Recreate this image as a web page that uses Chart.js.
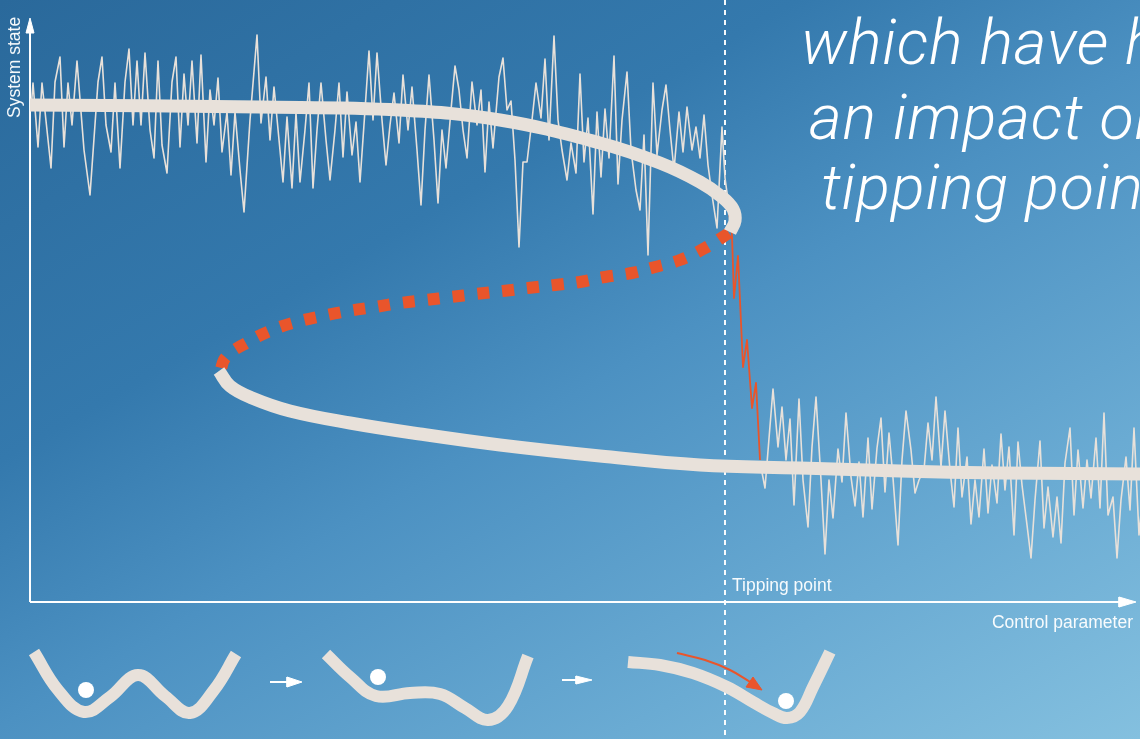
<!DOCTYPE html>
<html>
<head>
<meta charset="utf-8">
<script src="https://cdn.jsdelivr.net/npm/chart.js@4.4.1/dist/chart.umd.min.js"></script>
<style>
  html, body { margin: 0; padding: 0; overflow: hidden; }
  body { width: 1140px; height: 739px; position: relative;
    background: linear-gradient(150deg, #2a699b 0%, #3479ad 33%, #4c91c2 52%, #6aabd3 78%, #84c0df 100%); }
  #c { position: absolute; left: 0; top: 0; }
  .lbl { position: absolute; color: rgba(255,255,255,0.95); font-family: "Liberation Sans", Arial, sans-serif;
    font-size: 17.5px; line-height: 1; white-space: nowrap; }
  .big { position: absolute; color: #fff; font-family: "Roboto", "Lato", sans-serif; font-weight: 300;
    font-style: italic; font-size: 63px; letter-spacing: 0.8px; line-height: 1; white-space: nowrap; }
</style>
</head>
<body>
<canvas id="c" width="1140" height="739"></canvas>
<div class="lbl" style="left:6px; top:118px; transform: rotate(-90deg); transform-origin: left top;">System state</div>
<div class="lbl" style="left:732px; top:577px;">Tipping point</div>
<div class="lbl" style="right:7px; top:614px;">Control parameter</div>
<div class="big" style="left:801px; top:11px;">which have had</div>
<div class="big" style="left:809px; top:86px;">an impact on</div>
<div class="big" style="left:821px; top:156px;">tipping points</div>
<script>
// Units: x = control parameter (0 at axis origin), y = system state (0 at x axis)
const upperNoise = [
[1,492],[3,519],[8,455],[12,519],[21,434],[25,520],[30,545],[34,455],[38,519],[42,477],[47,541],[54,452],[60,407],[68,520],[72,545],[76,477],[81,450],[85,519],[90,434],[95,520],[99,553],[103,477],[107,541],[111,477],[115,549],[120,472],[124,444],[128,541],[132,457],[137,429],[142,520],[146,545],[150,455],[154,528],[158,477],[162,541],[167,459],[171,547],[176,440],[180,512],[184,477],[188,524],[192,450],[197,490],[201,427],[205,490],[210,432],[214,390],[220,482],[227,567],[231,479],[236,525],[240,462],[244,515],[253,420],[257,485],[262,414],[266,489],[270,420],[275,472],[279,519],[283,414],[287,472],[291,519],[296,462],[300,422],[305,472],[309,519],[313,445],[317,510],[322,447],[326,480],[330,420],[335,492],[339,551],[343,482],[347,549],[352,482],[356,437],[360,477],[364,509],[369,459],[373,527],[378,472],[382,515],[387,452],[391,397],[395,472],[399,527],[404,462],[408,399],[412,472],[416,434],[421,492],[425,536],[429,512],[433,472],[437,444],[442,520],[447,477],[451,512],[455,430],[459,500],[463,454],[469,525],[473,544],[477,492],[481,501],[485,442],[489,355],[493,440],[497,440],[502,482],[506,519],[511,484],[515,543],[519,462],[524,566],[528,482],[532,452],[537,422],[541,459],[546,429],[550,528],[554,440],[558,484],[563,388],[567,490],[571,425],[575,493],[579,444],[584,546],[588,418],[592,482],[597,530],[601,452],[606,412],[610,392],[614,467],[618,347],[623,519],[627,447],[632,492],[636,517],[640,472],[644,432],[649,490],[653,450],[657,495],[662,452],[666,475],[670,444],[674,487],[678,437],[682,407],[687,374],[692,475],[695,424],[698,402]
];
const lowerNoise = [
[730,140],[735,114],[743,213],[748,155],[752,195],[756,142],[760,183],[764,97],[769,203],[773,122],[778,75],[782,155],[786,205],[791,122],[795,48],[799,122],[803,84],[808,153],[812,120],[816,189],[821,125],[825,96],[829,140],[833,85],[838,164],[842,93],[847,154],[851,184],[855,110],[859,169],[863,124],[868,57],[872,142],[876,191],[881,152],[885,109],[889,122],[894,132],[898,179],[902,142],[906,205],[911,135],[915,191],[920,132],[924,95],[928,174],[932,105],[937,145],[941,78],[945,122],[949,85],[954,153],[958,89],[962,137],[967,99],[971,168],[975,112],[979,155],[984,67],[988,160],[992,117],[997,77],[1001,44],[1005,102],[1010,161],[1014,74],[1018,115],[1023,65],[1027,105],[1031,59],[1035,139],[1040,174],[1044,87],[1048,152],[1053,94],[1057,142],[1061,104],[1066,164],[1070,94],[1074,189],[1078,87],[1083,105],[1087,44],[1091,102],[1096,145],[1100,92],[1104,174],[1109,67],[1115,132]
];
const transitionPath = [[697,405],[702,367],[704,304],[708,346],[713,235],[717,262],[722,194],[726,219],[730,142]];
const stableUpper = [[0,497],[230,495],[370,492],[470,482],[570,459],[630,439],[670,420],[692,405],[703,393],[705,381],[700,370]];
const unstableMiddle = [[699,369],[675,354],[650,342],[625,335],[602,329],[575,325],[550,320],[525,317],[498,314],[473,311],[446,308],[421,305],[396,302],[370,299],[345,295],[318,291],[292,286],[266,280],[242,272],[218,260],[196,245],[190,230]];
const stableLower = [[189,231],[200,216],[222,204],[260,191],[320,179],[390,168],[470,157],[570,146],[670,137],[770,134],[870,131],[970,129],[1115,128]];
const tippingX = 695;
const wellStart = [[4,-50],[28,-88],[54,-110],[80,-95],[108,-73],[135,-94],[160,-111],[184,-88],[206,-52]];
const wellMiddle = [[296,-52],[320,-75],[346,-94],[380,-91],[410,-92],[435,-106],[458,-118],[478,-104],[498,-54]];
const wellEnd = [[598,-60],[630,-63],[663,-71],[697,-85],[723,-100],[743,-111],[757,-116],[770,-110],[783,-85],[800,-50]];
const balls = [[56,-88],[348,-75],[756,-99]];
const rollPath = [[647,-51],[675,-58],[700,-68],[722,-81]];
const rollHead = [[732,-88],[716,-85],[723,-75],[732,-88]];
const stepArrows = [[[240,-80],[258,-80]], [[532,-78],[548,-78]]];
const stepHeads = [[[272,-80],[257,-75],[257,-85],[272,-80]], [[562,-78],[546,-74],[546,-82],[562,-78]]];
const yAxisLine = [[0,0],[0,572]];
const yAxisHead = [[0,584],[-4,569],[4,569],[0,584]];
const xAxisLine = [[0,0],[1092,0]];
const xAxisHead = [[1106,0],[1089,5],[1089,-5],[1106,0]];

const CREAM = '#e8e1da', ORANGE = '#e9552b', WHITE = '#ffffff';
const pts = a => a.map(([x, y]) => ({x, y}));
const line = (data, color, width, extra) => Object.assign({
  data: pts(data), showLine: true, borderColor: color, borderWidth: width,
  pointRadius: 0, tension: 0, fill: false, borderCapStyle: 'butt', borderJoinStyle: 'round'
}, extra || {});
const head = (data, color) => line(data, color, 1, {fill: 'shape', backgroundColor: color, borderJoinStyle: 'miter'});

// first dataset is drawn on top
const datasets = [
  {data: pts(balls), showLine: false, pointRadius: 8, pointHoverRadius: 8, backgroundColor: WHITE, borderWidth: 0},
  head(rollHead, ORANGE),
  line(rollPath, ORANGE, 2, {tension: 0.4}),
  head(stepHeads[0], WHITE), head(stepHeads[1], WHITE),
  line(stepArrows[0], WHITE, 2), line(stepArrows[1], WHITE, 2),
  line(wellStart, CREAM, 12, {tension: 0.4}),
  line(wellMiddle, CREAM, 12, {tension: 0.4}),
  line(wellEnd, CREAM, 12, {tension: 0.4}),
  line(stableUpper, CREAM, 13, {tension: 0.4}),
  line(stableLower, CREAM, 13, {tension: 0.4}),
  line(unstableMiddle, ORANGE, 12, {tension: 0.4, borderDash: [12, 13]}),
  line(transitionPath, ORANGE, 1.8),
  line(upperNoise, CREAM, 1.6),
  line(lowerNoise, CREAM, 1.6),
  line([[tippingX, 602], [tippingX, -137]], 'rgba(255,255,255,0.95)', 2, {borderDash: [5, 5]}),
  head(yAxisHead, WHITE), head(xAxisHead, WHITE),
  line(yAxisLine, WHITE, 2), line(xAxisLine, WHITE, 2)
];

new Chart(document.getElementById('c'), {
  type: 'scatter',
  data: { datasets },
  options: {
    responsive: false, animation: false, events: [],
    layout: { padding: 0, autoPadding: false },
    plugins: { legend: { display: false }, tooltip: { enabled: false } },
    scales: {
      x: { type: 'linear', min: -30, max: 1110, display: false },
      y: { type: 'linear', min: -137, max: 602, display: false }
    }
  }
});
</script>
</body>
</html>
